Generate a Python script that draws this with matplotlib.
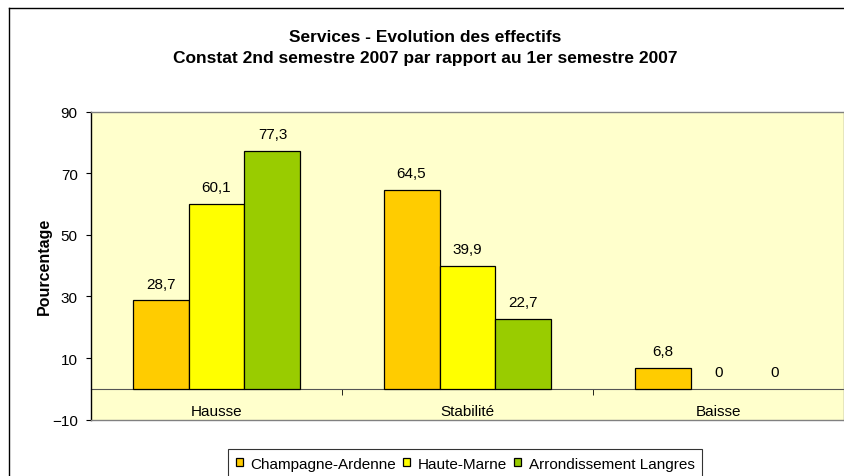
import matplotlib.pyplot as plt
from matplotlib.lines import Line2D
import numpy as np

plt.rcParams['font.family'] = ['Liberation Sans', 'DejaVu Sans']

categories = ["Hausse", "Stabilité", "Baisse"]
series_names = ["Champagne-Ardenne", "Haute-Marne", "Arrondissement Langres"]
champagne = [28.7, 64.5, 6.8]
haute_marne = [60.1, 39.9, 0]
langres = [77.3, 22.7, 0]
colors = ["#FFCC00", "#FFFF00", "#99CC00"]

fig = plt.figure(figsize=(8.45, 4.77), dpi=100)
ax = fig.add_axes([91/845, 56.3/477, 753/845, 308.2/477])
ax.set_facecolor("#FFFFCC")

x = np.arange(len(categories))
w = 0.223
for i, (vals, name, c) in enumerate(zip([champagne, haute_marne, langres], series_names, colors)):
    bars = ax.bar(x + (i - 1) * w, vals, w, color=c, edgecolor="black", linewidth=0.9, label=name, zorder=3)
    for b, v in zip(bars, vals):
        if v == 0:
            b.set_linewidth(0)  # empty bar, no outline on the axis
        lab = ("%g" % v).replace(".", ",")
        ax.annotate(lab, (b.get_x() + b.get_width() / 2, v), xytext=(0, 7),
                    textcoords="offset points", ha="center", va="bottom", fontsize=11)

ax.set_xlim(-0.5, 2.5)
ax.set_ylim(-10, 90)
ax.set_yticks([-10, 10, 30, 50, 70, 90])
ax.tick_params(axis="y", length=3.6, pad=6, labelsize=11, color="black")
ax.set_xticks([])
for s in ax.spines.values():
    s.set_color("#808080")
    s.set_linewidth(1)
ax.spines["left"].set_color("black")

# category axis crossing at 0
sec = ax.secondary_xaxis(0.1)
sec.spines["bottom"].set_color("#555555")
sec.set_xticks(x)
sec.set_xticklabels(categories)
sec.set_xticks([0.5, 1.5], minor=True)
sec.tick_params(axis="x", which="major", length=0, pad=11, labelsize=11)
sec.tick_params(axis="x", which="minor", length=4, color="black")

ax.set_ylabel("Pourcentage", fontsize=11.5, fontweight="bold", labelpad=0)

fig.text(0.503, 1 - 37/477, "Services - Evolution des effectifs", ha="center", va="center",
         fontsize=12.5, fontweight="bold")
fig.text(0.503, 1 - 59/477, "Constat 2nd semestre 2007 par rapport au 1er semestre 2007", ha="center",
         va="center", fontsize=12.5, fontweight="bold")

# outer chart border (cropped)
fig.add_artist(Line2D([9/845, 1], [1 - 9/477, 1 - 9/477], transform=fig.transFigure, color="black", lw=1))
fig.add_artist(Line2D([9/845, 9/845], [0, 1 - 9/477], transform=fig.transFigure, color="black", lw=1))

leg = fig.legend(loc="upper left", bbox_to_anchor=(228/845, 1 - 450/477), ncol=3, fontsize=11,
                 frameon=True, fancybox=False, edgecolor="black", handlelength=0.47, handleheight=0.47,
                 handletextpad=0.5, columnspacing=0.45, borderpad=0.5, borderaxespad=0)
leg.get_frame().set_linewidth(0.8)

fig.savefig("out.png", dpi=100)
